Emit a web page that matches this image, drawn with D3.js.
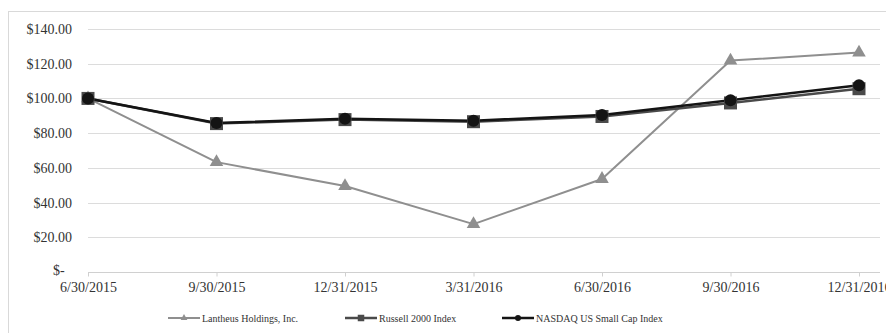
<!DOCTYPE html>
<html><head><meta charset="utf-8">
<script src="https://cdn.jsdelivr.net/npm/d3@7"></script>
<style>html,body{margin:0;padding:0;background:#fff;overflow:hidden}</style>
</head><body>
<svg id="chart" width="886" height="333"></svg>
<script>
const categories = ["6/30/2015","9/30/2015","12/31/2015","3/31/2016","6/30/2016","9/30/2016","12/31/2016"];
const lantheus = [100, 63.3, 49.5, 27.6, 53.6, 121.8, 126.4];
const russell = [100, 85.5, 87.8, 86.6, 89.6, 97.4, 105.6];
const nasdaq = [100, 85.8, 88.3, 87.2, 90.4, 99.0, 107.6];
const yTicks = [0, 20, 40, 60, 80, 100, 120, 140];
const seriesNames = ["Lantheus Holdings, Inc.", "Russell 2000 Index", "NASDAQ US Small Cap Index"];

const svg = d3.select("#chart");
const font = "'Liberation Serif','Times New Roman',serif";

svg.append("rect").attr("x",8.5).attr("y",11.5).attr("width",1000).attr("height",400)
  .attr("fill","#fff").attr("stroke","#d9d9d9");

const x = d3.scalePoint().domain(categories).range([88, 859]);
const y = d3.scaleLinear().domain([0, 140]).range([272, 29]);

// gridlines
svg.append("g").selectAll("line").data(yTicks.filter(d=>d>0)).join("line")
  .attr("x1",88).attr("x2",880)
  .attr("y1",d=>Math.round(y(d))+0.5).attr("y2",d=>Math.round(y(d))+0.5)
  .attr("stroke","#dcdcdc").attr("stroke-width",1);

// y axis labels
const yAxis = d3.axisLeft(y).tickValues(yTicks).tickSize(0).tickPadding(0)
  .tickFormat(d => d === 0 ? "$-" : "$" + d3.format(".2f")(d));
const ga = svg.append("g").attr("transform","translate(72,0)").call(yAxis);
ga.select(".domain").remove();
ga.selectAll("text").attr("font-family",font).attr("font-size","14px").attr("fill","#333");
ga.selectAll(".tick").filter(d=>d===0).select("text").attr("text-anchor","start").attr("x",-19).attr("dy","0.2em");

// x axis
const xAxis = d3.axisBottom(x).tickSize(4).tickPadding(6).tickSizeOuter(0);
const gx = svg.append("g").attr("transform","translate(0,272.5)").call(xAxis);
gx.select(".domain").attr("d","M88,0H880").attr("stroke","#d0d0d0");
gx.selectAll(".tick line").attr("stroke","#d0d0d0");
gx.selectAll("text").attr("font-family",font).attr("font-size","14px").attr("fill","#333");

const line = d3.line().x((d,i)=>x(categories[i])).y(d=>y(d));

const styles = [
  {data: lantheus, color:"#8f8f8f", width:2, marker:"triangle"},
  {data: russell, color:"#4a4a4a", width:2.5, marker:"square"},
  {data: nasdaq, color:"#141414", width:2.5, marker:"circle"}
];

function drawMarker(g, type, cx, cy, color, scale) {
  const s = scale || 1;
  if (type === "triangle") {
    g.append("path").attr("d", d3.symbol(d3.symbolTriangle, 80*s*s)())
      .attr("transform",`translate(${cx},${cy})`).attr("fill",color);
  } else if (type === "square") {
    g.append("rect").attr("x",cx-6.5*s).attr("y",cy-6.5*s).attr("width",13*s).attr("height",13*s).attr("fill",color);
  } else {
    g.append("circle").attr("cx",cx).attr("cy",cy).attr("r",6*s).attr("fill",color);
  }
}

styles.forEach(s => {
  svg.append("path").datum(s.data).attr("d",line).attr("fill","none")
    .attr("stroke",s.color).attr("stroke-width",s.width).attr("stroke-linejoin","round");
});
styles.forEach(s => {
  const g = svg.append("g");
  s.data.forEach((v,i) => drawMarker(g, s.marker, x(categories[i]), y(v), s.color));
});

// legend
const legendX = [168, 345, 502];
const lg = svg.append("g");
seriesNames.forEach((name,i) => {
  const s = styles[i];
  const lx = legendX[i], ly = 318;
  lg.append("line").attr("x1",lx).attr("x2",lx+32).attr("y1",ly).attr("y2",ly)
    .attr("stroke",s.color).attr("stroke-width",s.width);
  drawMarker(lg, s.marker, lx+16, ly, s.color, 0.5);
  lg.append("text").attr("x",lx+34).attr("y",ly+3.5).text(name)
    .attr("font-family",font).attr("font-size","10px").attr("fill","#333");
});
</script>
</body></html>
